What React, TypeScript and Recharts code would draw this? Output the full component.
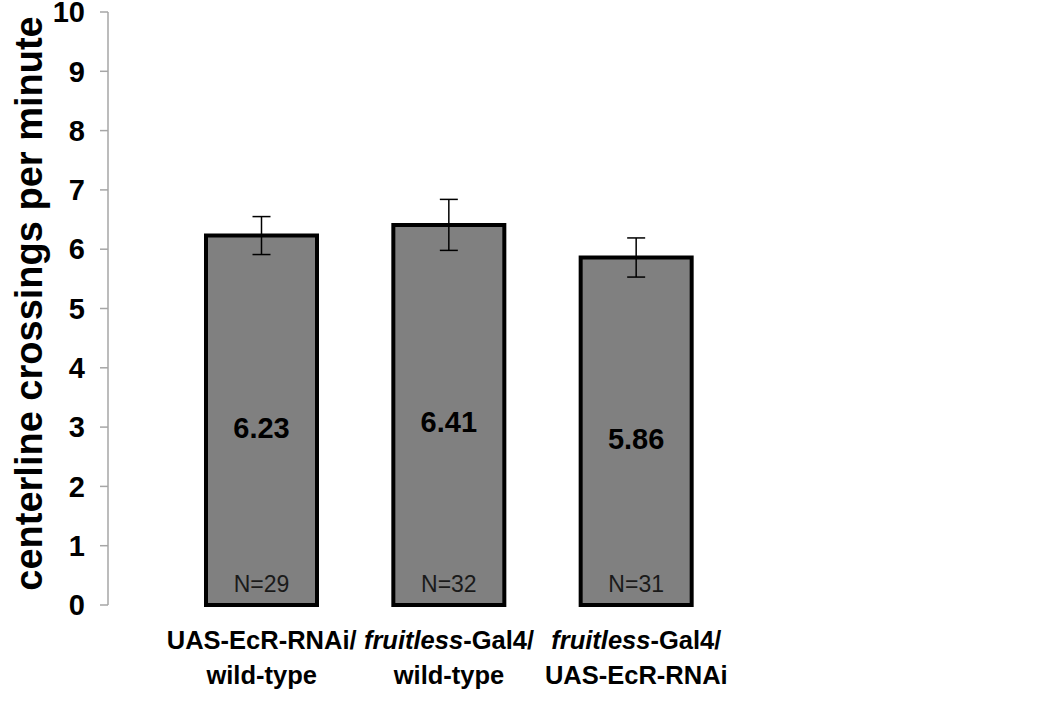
import { BarChart, Bar, XAxis, YAxis, ErrorBar, LabelList } from "recharts"

const labelTop = ["UAS-EcR-RNAi/", "fruitless-Gal4/", "fruitless-Gal4/"]
const labelBottom = ["wild-type", "wild-type", "UAS-EcR-RNAi"]
const means = [6.23, 6.41, 5.86]
const sem = [0.32, 0.43, 0.33]
const counts = [29, 32, 31]
const yTicks = [0, 1, 2, 3, 4, 5, 6, 7, 8, 9, 10]

const data = labelTop.map((top, i) => ({
  name: `${top} ${labelBottom[i]}`,
  mean: means[i],
  err: sem[i],
  n: `N=${counts[i]}`,
}))

const FONT = '"Liberation Sans", Arial, sans-serif'

// italicise the gene name "fruitless" like the original
function Line({ text, x, dy }: { text: string; x: number; dy: number }) {
  const italic = "fruitless"
  if (text.startsWith(italic)) {
    return (
      <tspan x={x} dy={dy}>
        <tspan fontStyle="italic">{italic}</tspan>
        {text.slice(italic.length)}
      </tspan>
    )
  }
  return (
    <tspan x={x} dy={dy}>
      {text}
    </tspan>
  )
}

function CategoryTick(props: any) {
  const { x, y, index } = props
  return (
    <text
      x={x}
      y={y}
      textAnchor="middle"
      fontFamily={FONT}
      fontWeight="bold"
      fontSize={25.5}
      fill="#000"
    >
      <Line text={labelTop[index]} x={x} dy={36} />
      <Line text={labelBottom[index]} x={x} dy={35} />
    </text>
  )
}

function CountLabel(props: any) {
  const { x, y, width, height, value } = props
  return (
    <text
      x={x + width / 2}
      y={y + height - 13}
      textAnchor="middle"
      fontFamily={FONT}
      fontSize={23}
      fill="#1a1a1a"
    >
      {value}
    </text>
  )
}

export default function App() {
  return (
    <div style={{ position: "absolute", left: 0, top: 0 }}>
      <BarChart
        width={1050}
        height={707}
        data={data}
        margin={{ top: 12, right: 260, bottom: 0, left: 0 }}
      >
        <XAxis
          dataKey="name"
          axisLine={false}
          tickLine={false}
          height={102}
          padding={{ left: 60, right: 60 }}
          interval={0}
          tick={<CategoryTick />}
        />
        <YAxis
          width={108}
          domain={[0, 10]}
          ticks={yTicks}
          interval={0}
          axisLine={{ stroke: "#a6a6a6", strokeWidth: 1.5 }}
          tickLine={{ stroke: "#a6a6a6", strokeWidth: 1.5 }}
          tickSize={8}
          tickMargin={15}
          tick={{ fill: "#000", fontSize: 29, fontWeight: "bold", fontFamily: FONT }}
          label={{
            value: "centerline crossings per minute",
            angle: -90,
            position: "center",
            dx: -25,
            dy: -5,
            style: { fontFamily: FONT, fontWeight: "bold", fontSize: 38, fill: "#000" },
          }}
        />
        <Bar
          dataKey="mean"
          fill="#808080"
          stroke="#000"
          strokeWidth={4}
          barSize={111}
          isAnimationActive={false}
        >
          <ErrorBar dataKey="err" width={9} stroke="#000" strokeWidth={1.5} />
          <LabelList
            dataKey="mean"
            position="center"
            dy={7}
            style={{ fontFamily: FONT, fontWeight: "bold", fontSize: 29, fill: "#000" }}
          />
          <LabelList dataKey="n" content={<CountLabel />} />
        </Bar>
      </BarChart>
    </div>
  )
}
